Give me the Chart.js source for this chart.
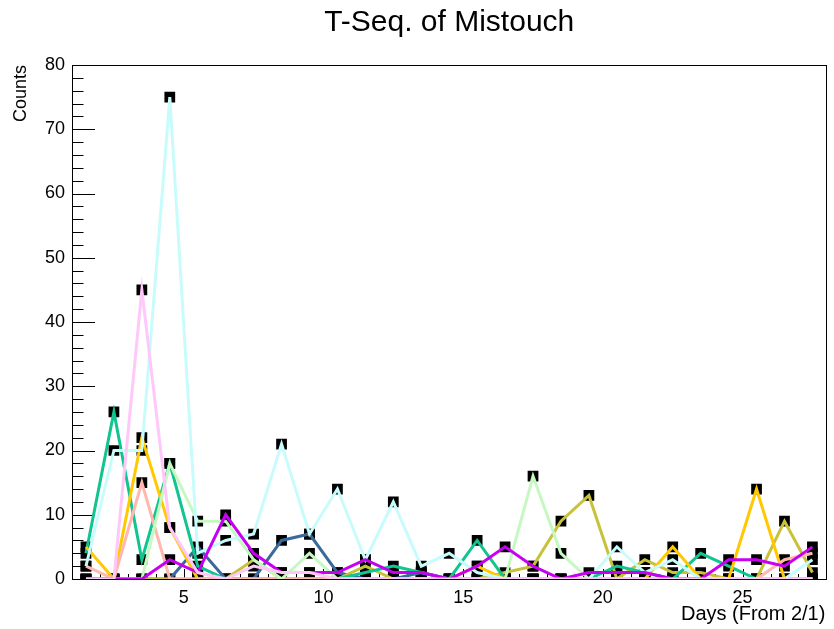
<!DOCTYPE html>
<html>
<head>
<meta charset="utf-8">
<script src="https://cdn.jsdelivr.net/npm/chart.js@4/dist/chart.umd.min.js"></script>
<style>
  html, body { margin: 0; padding: 0; background: #fff; }
  canvas { display: block; }
</style>
</head>
<body>
<canvas id="chart" width="834" height="629"></canvas>
<script>
// Day bins (bin centres, days counted from 2/1)
const days = [1.5, 2.5, 3.5, 4.5, 5.5, 6.5, 7.5, 8.5, 9.5, 10.5, 11.5, 12.5, 13.5, 14.5,
              15.5, 16.5, 17.5, 18.5, 19.5, 20.5, 21.5, 22.5, 23.5, 24.5, 25.5, 26.5, 27.5];

// Mistouch counts per day, one array per trace
const traceBlue    = [0, 0, 0, 0, 5, 0, 0, 6, 7, 1, 0, 0, 1, 0, 0, 0, 0, 0, 0, 0, 0, 0, 0, 0, 0, 0, 0];
const traceOlive   = [0, 0, 0, 0, 0, 0, 3, 0, 0, 0, 2, 0, 0, 0, 0, 1, 2, 9, 13, 0, 3, 1, 1, 0, 0, 9, 1];
const traceTeal    = [4, 26, 3, 18, 2, 0, 0, 0, 0, 0, 1, 2, 1, 0, 6, 0, 0, 0, 0, 2, 1, 0, 4, 2, 0, 0, 0];
const traceOrange  = [5, 0, 22, 8, 0, 0, 0, 0, 0, 0, 0, 0, 0, 0, 2, 0, 0, 0, 0, 0, 0, 5, 0, 0, 14, 0, 0];
const traceSalmon  = [2, 0, 15, 0, 0, 0, 0, 0, 0, 0, 0, 0, 0, 0, 0, 0, 0, 0, 0, 0, 0, 0, 0, 0, 0, 3, 4];
const traceGreen   = [0, 0, 0, 18, 9, 9, 3, 0, 4, 0, 0, 0, 0, 0, 0, 0, 16, 4, 0, 0, 0, 0, 0, 0, 0, 0, 0];
const traceCyan    = [2, 20, 20, 75, 4, 6, 7, 21, 7, 14, 3, 12, 2, 4, 1, 0, 0, 0, 0, 5, 1, 3, 0, 0, 0, 0, 3];
const traceMagenta = [0, 0, 0, 3, 1, 10, 4, 1, 1, 1, 3, 1, 1, 0, 2, 5, 2, 0, 1, 1, 1, 0, 0, 3, 3, 2, 5];
const tracePink    = [0, 0, 45, 8, 1, 0, 2, 1, 1, 0, 0, 0, 0, 0, 0, 0, 0, 0, 0, 0, 0, 0, 0, 0, 0, 0, 0];

// Axis tick labels
const xTickLabels = [5, 10, 15, 20, 25];
const yTickLabels = [0, 10, 20, 30, 40, 50, 60, 70, 80];

// Traces listed from bottom-most to top-most
const traces = [
  { values: traceBlue,    color: '#3a6a9c' },
  { values: traceOlive,   color: '#c8c23a' },
  { values: traceTeal,    color: '#12c48f' },
  { values: traceOrange,  color: '#ffc800' },
  { values: traceSalmon,  color: '#ffb8ae' },
  { values: traceGreen,   color: '#c6f9c2' },
  { values: traceCyan,    color: '#c8fcfc' },
  { values: traceMagenta, color: '#c800f2' },
  { values: tracePink,    color: '#ffc8fa' }
];

const FONT = '"Liberation Sans", Arial, Helvetica, sans-serif';

const datasets = [];
// black square markers sit underneath every line
traces.forEach((t, i) => {
  datasets.push({
    data: days.map((d, k) => ({ x: d, y: t.values[k] })),
    showLine: false,
    pointStyle: 'rect',
    pointRadius: 7.6,
    pointBorderWidth: 0,
    pointBackgroundColor: '#000',
    order: 100 + i
  });
});
traces.forEach((t, i) => {
  datasets.push({
    data: days.map((d, k) => ({ x: d, y: t.values[k] })),
    borderColor: t.color,
    borderWidth: 3,
    tension: 0,
    pointRadius: 0,
    fill: false,
    order: traces.length - i
  });
});

// frame, inward ticks and text in the ROOT-like style
const frameAndText = {
  id: 'frameAndText',
  beforeDatasetsDraw(chart) {
    const { ctx, chartArea: a, scales: { x, y } } = chart;
    ctx.save();
    ctx.strokeStyle = '#000';
    ctx.lineWidth = 1;
    ctx.strokeRect(Math.round(a.left) + 0.5, Math.round(a.top) + 0.5,
                   Math.round(a.right - a.left), Math.round(a.bottom - a.top));
    ctx.beginPath();
    for (let v = y.min; v <= y.max; v += 2) {
      const py = Math.round(y.getPixelForValue(v)) + 0.5;
      const len = (v % 10 === 0) ? 23 : 11.5;
      ctx.moveTo(a.left, py);
      ctx.lineTo(a.left + len, py);
    }
    for (let v = 2; v <= 27; v++) {
      const px = Math.round(x.getPixelForValue(v)) + 0.5;
      const len = (v % 5 === 0) ? 10 : 5;
      ctx.moveTo(px, a.bottom);
      ctx.lineTo(px, a.bottom - len);
    }
    ctx.stroke();
    ctx.restore();
  },
  afterDraw(chart) {
    const { ctx, chartArea: a } = chart;
    ctx.save();
    ctx.fillStyle = '#000';
    ctx.textBaseline = 'alphabetic';
    ctx.font = '30px ' + FONT;
    ctx.textAlign = 'center';
    ctx.fillText('T-Seq. of Mistouch', (a.left + a.right) / 2, 31);

    ctx.font = '20px ' + FONT;
    ctx.textAlign = 'right';
    ctx.fillText('Days (From 2/1)', a.right - 1, 620);

    ctx.font = '18px ' + FONT;
    ctx.translate(26, a.top);
    ctx.rotate(-Math.PI / 2);
    ctx.textAlign = 'right';
    ctx.fillText('Counts', 0, 0);
    ctx.restore();
  }
};

new Chart(document.getElementById('chart'), {
  type: 'line',
  data: { datasets },
  options: {
    responsive: false,
    animation: false,
    devicePixelRatio: 1,
    layout: { padding: { left: 0, right: 5, top: 65, bottom: 0 } },
    plugins: { legend: { display: false }, tooltip: { enabled: false }, title: { display: false } },
    scales: {
      x: {
        type: 'linear',
        min: 1,
        max: 28,
        afterBuildTicks: s => { s.ticks = xTickLabels.map(v => ({ value: v })); },
        afterFit: s => { s.height = 50; },
        grid: { display: false, drawTicks: false },
        border: { display: false },
        ticks: { color: '#000', font: { family: FONT, size: 18 }, padding: 8, maxRotation: 0, autoSkip: false }
      },
      y: {
        type: 'linear',
        min: 0,
        max: 80,
        afterBuildTicks: s => { s.ticks = yTickLabels.map(v => ({ value: v })); },
        afterFit: s => { s.width = 72; },
        grid: { display: false, drawTicks: false },
        border: { display: false },
        ticks: { color: '#000', font: { family: FONT, size: 18 }, padding: 7 }
      }
    }
  },
  plugins: [frameAndText]
});
</script>
</body>
</html>
